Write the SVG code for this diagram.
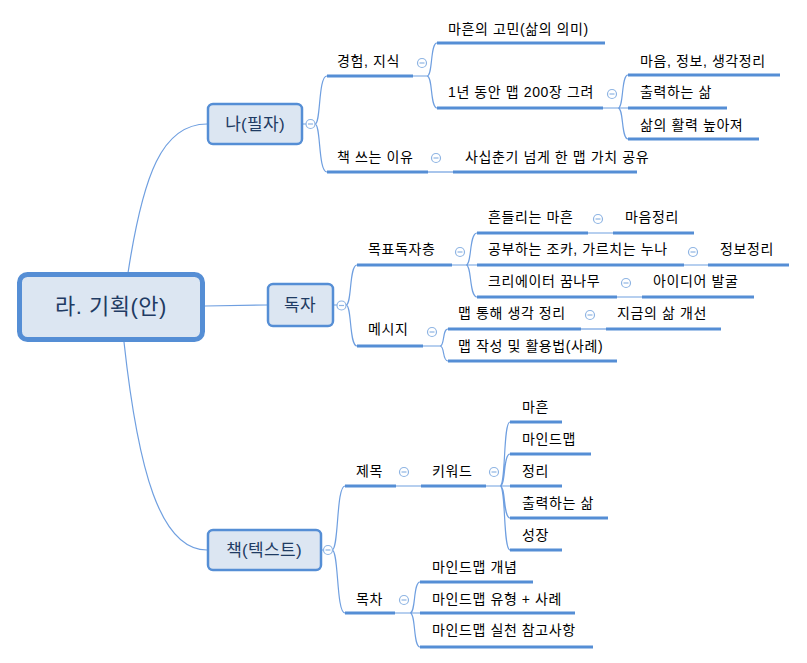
<svg xmlns="http://www.w3.org/2000/svg" width="807" height="663" viewBox="0 0 807 663">
<style>
text{font-family:"Liberation Sans","Noto Sans CJK KR",sans-serif;font-size:14px;fill:#000;letter-spacing:0.6px}
.nt{fill:#1F3B63;font-size:17px;text-anchor:middle;letter-spacing:0.3px}
.rt{fill:#1F3B63;font-size:22px;text-anchor:middle;letter-spacing:0.5px}
.box{fill:#DCE6F2;stroke:#558ED5;stroke-width:2.5}
.root{fill:#DCE6F2;stroke:#558ED5;stroke-width:5}
.ul{stroke:#558ED5;stroke-width:3;fill:none}
.ln{stroke:#6F9FE0;stroke-width:1.2;fill:none}
.cl{fill:#fff;stroke:#8EB4E3;stroke-width:1.2}
.cm{stroke:#8EB4E3;stroke-width:1.2}
</style>
<defs>
<g id="col"><circle class="cl" r="4.5"/><line class="cm" x1="-2.5" y1="0" x2="2.5" y2="0"/></g>
</defs>
<g id="connectors">
<path class="ln" d="M128,273 C143,175 162,124 207,124"/>
<path class="ln" d="M205,306 L267,305"/>
<path class="ln" d="M124,342 C138,470 160,550 207,550"/>
<path class="ln" d="M303,124 L306,124 M315,124 C321,124 318,76 327,76 M315,124 C321,124 318,172 327,172"/>
<path class="ln" d="M413,76 L427,76 M427,76 C433,76 430,43 437,43 M427,76 C433,76 430,108 437,108"/>
<path class="ln" d="M603,108 L618,108 M618,108 C624,108 621,75 628,75 M618,108 L628,108 M618,108 C624,108 621,139 628,139"/>
<path class="ln" d="M428,172 L453,172"/>
<path class="ln" d="M334,305 L337,305 M346,305 C352,305 349,265 357,265 M346,305 C352,305 349,346 357,346"/>
<path class="ln" d="M452,265 L466,265 M466,265 C472,265 469,233 477,233 M466,265 L477,265 M466,265 C472,265 469,297 477,297"/>
<path class="ln" d="M588,233 L613,233 M684,265 L708,265 M617,297 L642,297"/>
<path class="ln" d="M423,346 L440,346 M440,346 C445,346 442,329 448,329 M440,346 C445,346 442,361 448,361"/>
<path class="ln" d="M581,329 L606,329"/>
<path class="ln" d="M322,550 L324,550 M332,550 C339,550 336,486 345,486 M332,550 C339,550 336,613 345,613"/>
<path class="ln" d="M396,486 L421,486 M486,486 L500,486"/>
<path class="ln" d="M500,486 C506,486 503,422 510,422 M500,486 C506,486 503,454 510,454 M500,486 L510,486 M500,486 C506,486 503,518 510,518 M500,486 C506,486 503,550 510,550"/>
<path class="ln" d="M395,613 L410,613 M410,613 C416,613 413,582 420,582 M410,613 L420,613 M410,613 C416,613 413,647 420,647"/>
</g>
<g id="root"><rect class="root" x="19.5" y="274.5" width="183" height="65" rx="8"/><text class="rt" x="111" y="314">라. 기획(안)</text></g>
<g id="n-author"><rect class="box" x="208" y="104" width="94" height="40" rx="5"/><text class="nt" x="255" y="130">나(필자)</text><use href="#col" x="310.5" y="124"/></g>
<g id="n-reader"><rect class="box" x="268" y="284" width="65" height="42" rx="5"/><text class="nt" x="300" y="311">독자</text><use href="#col" x="341.5" y="305.5"/></g>
<g id="n-book"><rect class="box" x="208" y="530" width="113" height="40" rx="5"/><text class="nt" x="264" y="556">책(텍스트)</text><use href="#col" x="328" y="550"/></g>

<g id="n-exp"><text x="337" y="66">경험, 지식</text><line class="ul" x1="327" y1="76" x2="413" y2="76"/><use href="#col" x="422" y="63"/></g>
<g id="n-worry"><text x="448" y="34">마흔의 고민(삶의 의미)</text><line class="ul" x1="437" y1="43" x2="605" y2="43"/></g>
<g id="n-200"><text x="448" y="97">1년 동안 맵 200장 그려</text><line class="ul" x1="437" y1="108" x2="603" y2="108"/><use href="#col" x="612" y="94"/></g>
<g id="n-mind"><text x="640" y="66">마음, 정보, 생각정리</text><line class="ul" x1="628" y1="75" x2="780" y2="75"/></g>
<g id="n-output"><text x="640" y="97">출력하는 삶</text><line class="ul" x1="628" y1="108" x2="727" y2="108"/></g>
<g id="n-vital"><text x="640" y="130">삶의 활력 높아져</text><line class="ul" x1="628" y1="139" x2="759" y2="139"/></g>
<g id="n-why"><text x="337" y="162">책 쓰는 이유</text><line class="ul" x1="327" y1="172" x2="428" y2="172"/><use href="#col" x="436" y="158"/></g>
<g id="n-share"><text x="465" y="162">사십춘기 넘게 한 맵 가치 공유</text><line class="ul" x1="453" y1="172" x2="637" y2="172"/></g>

<g id="n-target"><text x="368" y="254">목표독자층</text><line class="ul" x1="357" y1="265" x2="452" y2="265"/><use href="#col" x="460" y="252"/></g>
<g id="n-shaky"><text x="488" y="222">흔들리는 마흔</text><line class="ul" x1="477" y1="233" x2="588" y2="233"/><use href="#col" x="598" y="219"/></g>
<g id="n-mindorg"><text x="625" y="222">마음정리</text><line class="ul" x1="613" y1="233" x2="694" y2="233"/></g>
<g id="n-study"><text x="488" y="254">공부하는 조카, 가르치는 누나</text><line class="ul" x1="477" y1="265" x2="684" y2="265"/><use href="#col" x="693" y="252"/></g>
<g id="n-infoorg"><text x="720" y="254">정보정리</text><line class="ul" x1="708" y1="265" x2="789" y2="265"/></g>
<g id="n-creator"><text x="488" y="286">크리에이터 꿈나무</text><line class="ul" x1="477" y1="297" x2="617" y2="297"/><use href="#col" x="626" y="283"/></g>
<g id="n-idea"><text x="653" y="286">아이디어 발굴</text><line class="ul" x1="642" y1="297" x2="754" y2="297"/></g>
<g id="n-msg"><text x="368" y="334">메시지</text><line class="ul" x1="357" y1="346" x2="423" y2="346"/><use href="#col" x="432" y="332"/></g>
<g id="n-thinkorg"><text x="458" y="318">맵 통해 생각 정리</text><line class="ul" x1="448" y1="329" x2="581" y2="329"/><use href="#col" x="590" y="315"/></g>
<g id="n-improve"><text x="617" y="318">지금의 삶 개선</text><line class="ul" x1="606" y1="329" x2="721" y2="329"/></g>
<g id="n-howto"><text x="458" y="351">맵 작성 및 활용법(사례)</text><line class="ul" x1="448" y1="361" x2="617" y2="361"/></g>

<g id="n-title"><text x="356" y="476">제목</text><line class="ul" x1="345" y1="486" x2="396" y2="486"/><use href="#col" x="404" y="472"/></g>
<g id="n-keyword"><text x="432" y="476">키워드</text><line class="ul" x1="421" y1="486" x2="486" y2="486"/><use href="#col" x="494" y="472"/></g>
<g id="n-k1"><text x="522" y="412">마흔</text><line class="ul" x1="510" y1="422" x2="562" y2="422"/></g>
<g id="n-k2"><text x="522" y="444">마인드맵</text><line class="ul" x1="510" y1="454" x2="591" y2="454"/></g>
<g id="n-k3"><text x="522" y="476">정리</text><line class="ul" x1="510" y1="486" x2="562" y2="486"/></g>
<g id="n-k4"><text x="522" y="508">출력하는 삶</text><line class="ul" x1="510" y1="518" x2="608" y2="518"/></g>
<g id="n-k5"><text x="522" y="540">성장</text><line class="ul" x1="510" y1="550" x2="562" y2="550"/></g>
<g id="n-toc"><text x="356" y="604">목차</text><line class="ul" x1="345" y1="613" x2="395" y2="613"/><use href="#col" x="404" y="600"/></g>
<g id="n-t1"><text x="432" y="572">마인드맵 개념</text><line class="ul" x1="420" y1="582" x2="533" y2="582"/></g>
<g id="n-t2"><text x="432" y="604">마인드맵 유형 + 사례</text><line class="ul" x1="420" y1="613" x2="575" y2="613"/></g>
<g id="n-t3"><text x="432" y="635">마인드맵 실천 참고사항</text><line class="ul" x1="420" y1="647" x2="593" y2="647"/></g>
</svg>
